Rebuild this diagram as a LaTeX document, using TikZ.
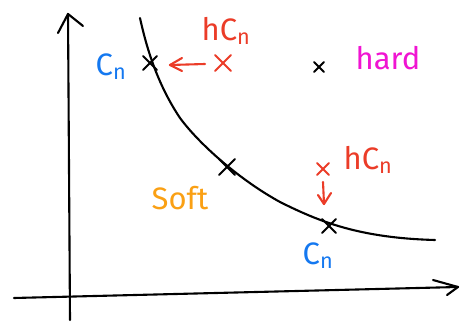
\documentclass[tikz,border=0pt]{standalone}
\usepackage{fontspec}
\setmainfont{Fira Sans}
\usetikzlibrary{arrows.meta}
\definecolor{myred}{RGB}{235,60,40}
\definecolor{myblue}{RGB}{20,120,240}
\definecolor{mymag}{RGB}{240,20,210}
\definecolor{myorange}{RGB}{250,160,20}
\tikzset{
  ink/.style={line width=2.1pt, line cap=round, line join=round},
  lbl/.style={font=\fontsize{31}{34}\selectfont, inner sep=0pt},
  crossmark/.style={ink},
}
\newcommand{\mycross}[4][black]{%
  \draw[crossmark,#1] (#2-#4,#3-#4) -- (#2+#4,#3+#4);
  \draw[crossmark,#1] (#2-#4,#3+#4) -- (#2+#4,#3-#4);}
\begin{document}
\begin{tikzpicture}[x=1pt,y=-1pt]
\useasboundingbox (0,0) rectangle (465,328);
% axes
\coordinate (yb) at (70,320);
\coordinate (yt) at (68,14);
\coordinate (xl) at (14,298);
\coordinate (xr) at (458,287);
\draw[ink] (yb) -- (yt);
\draw[ink] (58,33) -- (yt) -- (83,26);
\draw[ink] (xl) -- (xr);
\draw[ink] (433,280) -- (xr) -- (447,295);
% curve
\draw[ink] (140,18) .. controls (147,50) and (158,85) .. (180,118)
  .. controls (200,145) and (240,180) .. (280,202)
  .. controls (320,222) and (360,238) .. (435,240);
% black crosses
\mycross{150}{63}{7}
\mycross{227}{167}{8}
\mycross{329}{226}{7}
\mycross{319}{67}{5}
% red crosses
\mycross[myred]{223}{63}{8}
\mycross[myred]{323}{169}{6}
% red arrows
\coordinate (a1s) at (205,64);
\coordinate (a1e) at (170,65);
\draw[ink,myred] (a1s) -- (a1e);
\draw[ink,myred] (182,58) -- (a1e) -- (182,71);
\coordinate (a2s) at (323,182);
\coordinate (a2e) at (324,204);
\draw[ink,myred] (a2s) -- (a2e);
\draw[ink,myred] (318,195) -- (a2e) -- (331,193);
% labels
\node[lbl,myblue] (c1) at (111,67) {C$_{\mathrm{n}}$};
\node[lbl,myred] (h1) at (226,31) {hC$_{\mathrm{n}}$};
\node[lbl,mymag] (hard) at (388,58) {hard};
\node[lbl,myred] (h2) at (368,160) {hC$_{\mathrm{n}}$};
\node[lbl,myorange] (soft) at (180,198) {Soft};
\node[lbl,myblue] (c2) at (318,256) {C$_{\mathrm{n}}$};
\end{tikzpicture}
\end{document}
